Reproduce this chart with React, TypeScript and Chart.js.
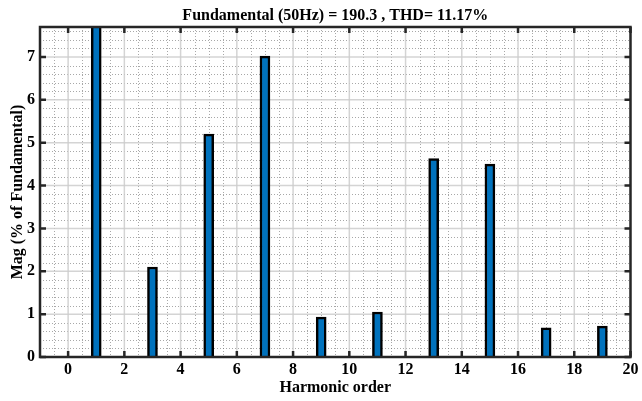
import React, { useEffect, useRef } from "react";
import { Chart, registerables } from "chart.js";

Chart.register(...registerables);

const harmonicOrder = [1, 3, 5, 7, 9, 11, 13, 15, 17, 19];
const magnitude = [100, 2.1, 5.2, 7.02, 0.93, 1.05, 4.63, 4.5, 0.68, 0.72];
const titleText = "Fundamental (50Hz) = 190.3 , THD= 11.17%";
const xTitle = "Harmonic order";
const yTitle = "Mag (% of Fundamental)";
const xMin = -1;
const xMax = 20;
const yMin = 0;
const yMax = 7.7;

const FONT = "'Liberation Serif', 'Times New Roman', serif";

const gridPlugin = {
  id: "matlabGrid",
  beforeDatasetsDraw(chart: any) {
    const { ctx, chartArea: a, scales } = chart;
    const xs = scales.x;
    const ys = scales.y;
    ctx.save();
    ctx.beginPath();
    ctx.rect(a.left, a.top, a.right - a.left, a.bottom - a.top);
    ctx.clip();
    ctx.strokeStyle = "rgba(110,110,110,0.6)";
    ctx.lineWidth = 1;
    ctx.setLineDash([1, 2]);
    for (let v = xMin; v <= xMax + 1e-9; v += 0.5) {
      if (Math.abs(v % 2) < 1e-9) continue;
      const px = Math.round(xs.getPixelForValue(v)) + 0.5;
      ctx.beginPath();
      ctx.moveTo(px, a.top);
      ctx.lineTo(px, a.bottom);
      ctx.stroke();
    }
    for (let v = yMin; v <= yMax + 1e-9; v += 0.2) {
      if (Math.abs(v - Math.round(v)) < 1e-6) continue;
      const py = Math.round(ys.getPixelForValue(v)) + 0.5;
      ctx.beginPath();
      ctx.moveTo(a.left, py);
      ctx.lineTo(a.right, py);
      ctx.stroke();
    }
    ctx.setLineDash([]);
    ctx.strokeStyle = "rgba(205,205,205,0.85)";
    ctx.lineWidth = 1.5;
    xs.ticks.forEach((t: any) => {
      const px = xs.getPixelForValue(t.value);
      ctx.beginPath();
      ctx.moveTo(px, a.top);
      ctx.lineTo(px, a.bottom);
      ctx.stroke();
    });
    ys.ticks.forEach((t: any) => {
      const py = ys.getPixelForValue(t.value);
      ctx.beginPath();
      ctx.moveTo(a.left, py);
      ctx.lineTo(a.right, py);
      ctx.stroke();
    });
    ctx.restore();
  },
  afterDatasetsDraw(chart: any) {
    const { ctx, chartArea: a, scales } = chart;
    const xs = scales.x;
    const ys = scales.y;
    ctx.save();
    ctx.strokeStyle = "#262626";
    ctx.lineWidth = 2.5;
    const tl = 6;
    xs.ticks.forEach((t: any) => {
      const px = xs.getPixelForValue(t.value);
      ctx.beginPath();
      ctx.moveTo(px, a.bottom);
      ctx.lineTo(px, a.bottom - tl);
      ctx.moveTo(px, a.top);
      ctx.lineTo(px, a.top + tl);
      ctx.stroke();
    });
    ys.ticks.forEach((t: any) => {
      const py = ys.getPixelForValue(t.value);
      ctx.beginPath();
      ctx.moveTo(a.left, py);
      ctx.lineTo(a.left + tl, py);
      ctx.moveTo(a.right, py);
      ctx.lineTo(a.right - tl, py);
      ctx.stroke();
    });
    ctx.strokeRect(a.left, a.top, a.right - a.left, a.bottom - a.top);
    // title centred over the plot area
    ctx.fillStyle = "#000";
    ctx.font = `bold 16px ${FONT}`;
    ctx.textAlign = "center";
    ctx.textBaseline = "alphabetic";
    ctx.fillText(titleText, (a.left + a.right) / 2, a.top - 7);
    ctx.restore();
  },
};

export default function App() {
  const ref = useRef<HTMLCanvasElement>(null);
  useEffect(() => {
    if (!ref.current) return;
    const chart = new Chart(ref.current, {
      type: "bar",
      data: {
        datasets: [
          {
            data: harmonicOrder.map((h, i) => ({ x: h, y: magnitude[i] })),
            backgroundColor: "#0072BD",
            borderColor: "#000000",
            borderWidth: 2.5,
            borderSkipped: "start",
            barThickness: 10,
          } as any,
        ],
      },
      options: {
        animation: false,
        responsive: false,
        maintainAspectRatio: false,
        layout: { padding: { left: 0, right: 7, top: 27, bottom: 0 } },
        plugins: {
          legend: { display: false },
          tooltip: { enabled: false },
          title: { display: false },
        },
        scales: {
          x: {
            type: "linear",
            min: xMin,
            max: xMax,
            offset: false,
            grid: { display: false, drawTicks: false },
            border: { display: false },
            ticks: {
              stepSize: 2,
              color: "#000",
              padding: 3.5,
              font: { family: FONT, size: 16, weight: "bold" },
            },
            afterBuildTicks: (s: any) => {
              s.ticks = s.ticks.filter((t: any) => Math.abs(t.value % 2) < 1e-9);
            },
            afterFit: (s: any) => {
              s.height = 44;
            },
            title: {
              display: true,
              text: xTitle,
              color: "#000",
              padding: { top: 0, bottom: 3.5 },
              font: { family: FONT, size: 16, weight: "bold" },
            },
          },
          y: {
            type: "linear",
            min: yMin,
            max: yMax,
            grid: { display: false, drawTicks: false },
            border: { display: false },
            ticks: {
              stepSize: 1,
              color: "#000",
              padding: 5,
              font: { family: FONT, size: 16, weight: "bold" },
            },
            afterBuildTicks: (s: any) => {
              s.ticks = s.ticks.filter((t: any) => Math.abs(t.value - Math.round(t.value)) < 1e-9);
            },
            afterFit: (s: any) => {
              s.width = 40;
            },
            title: {
              display: true,
              text: yTitle,
              color: "#000",
              padding: { top: 8, bottom: 0 },
              font: { family: FONT, size: 16, weight: "bold" },
            },
          },
        },
      } as any,
      plugins: [gridPlugin],
    });
    return () => chart.destroy();
  }, []);
  return (
    <div style={{ position: "fixed", left: 0, top: 0, width: 642, height: 401, background: "#fff" }}>
      <canvas ref={ref} width={642} height={401} style={{ width: 642, height: 401 }} />
    </div>
  );
}
